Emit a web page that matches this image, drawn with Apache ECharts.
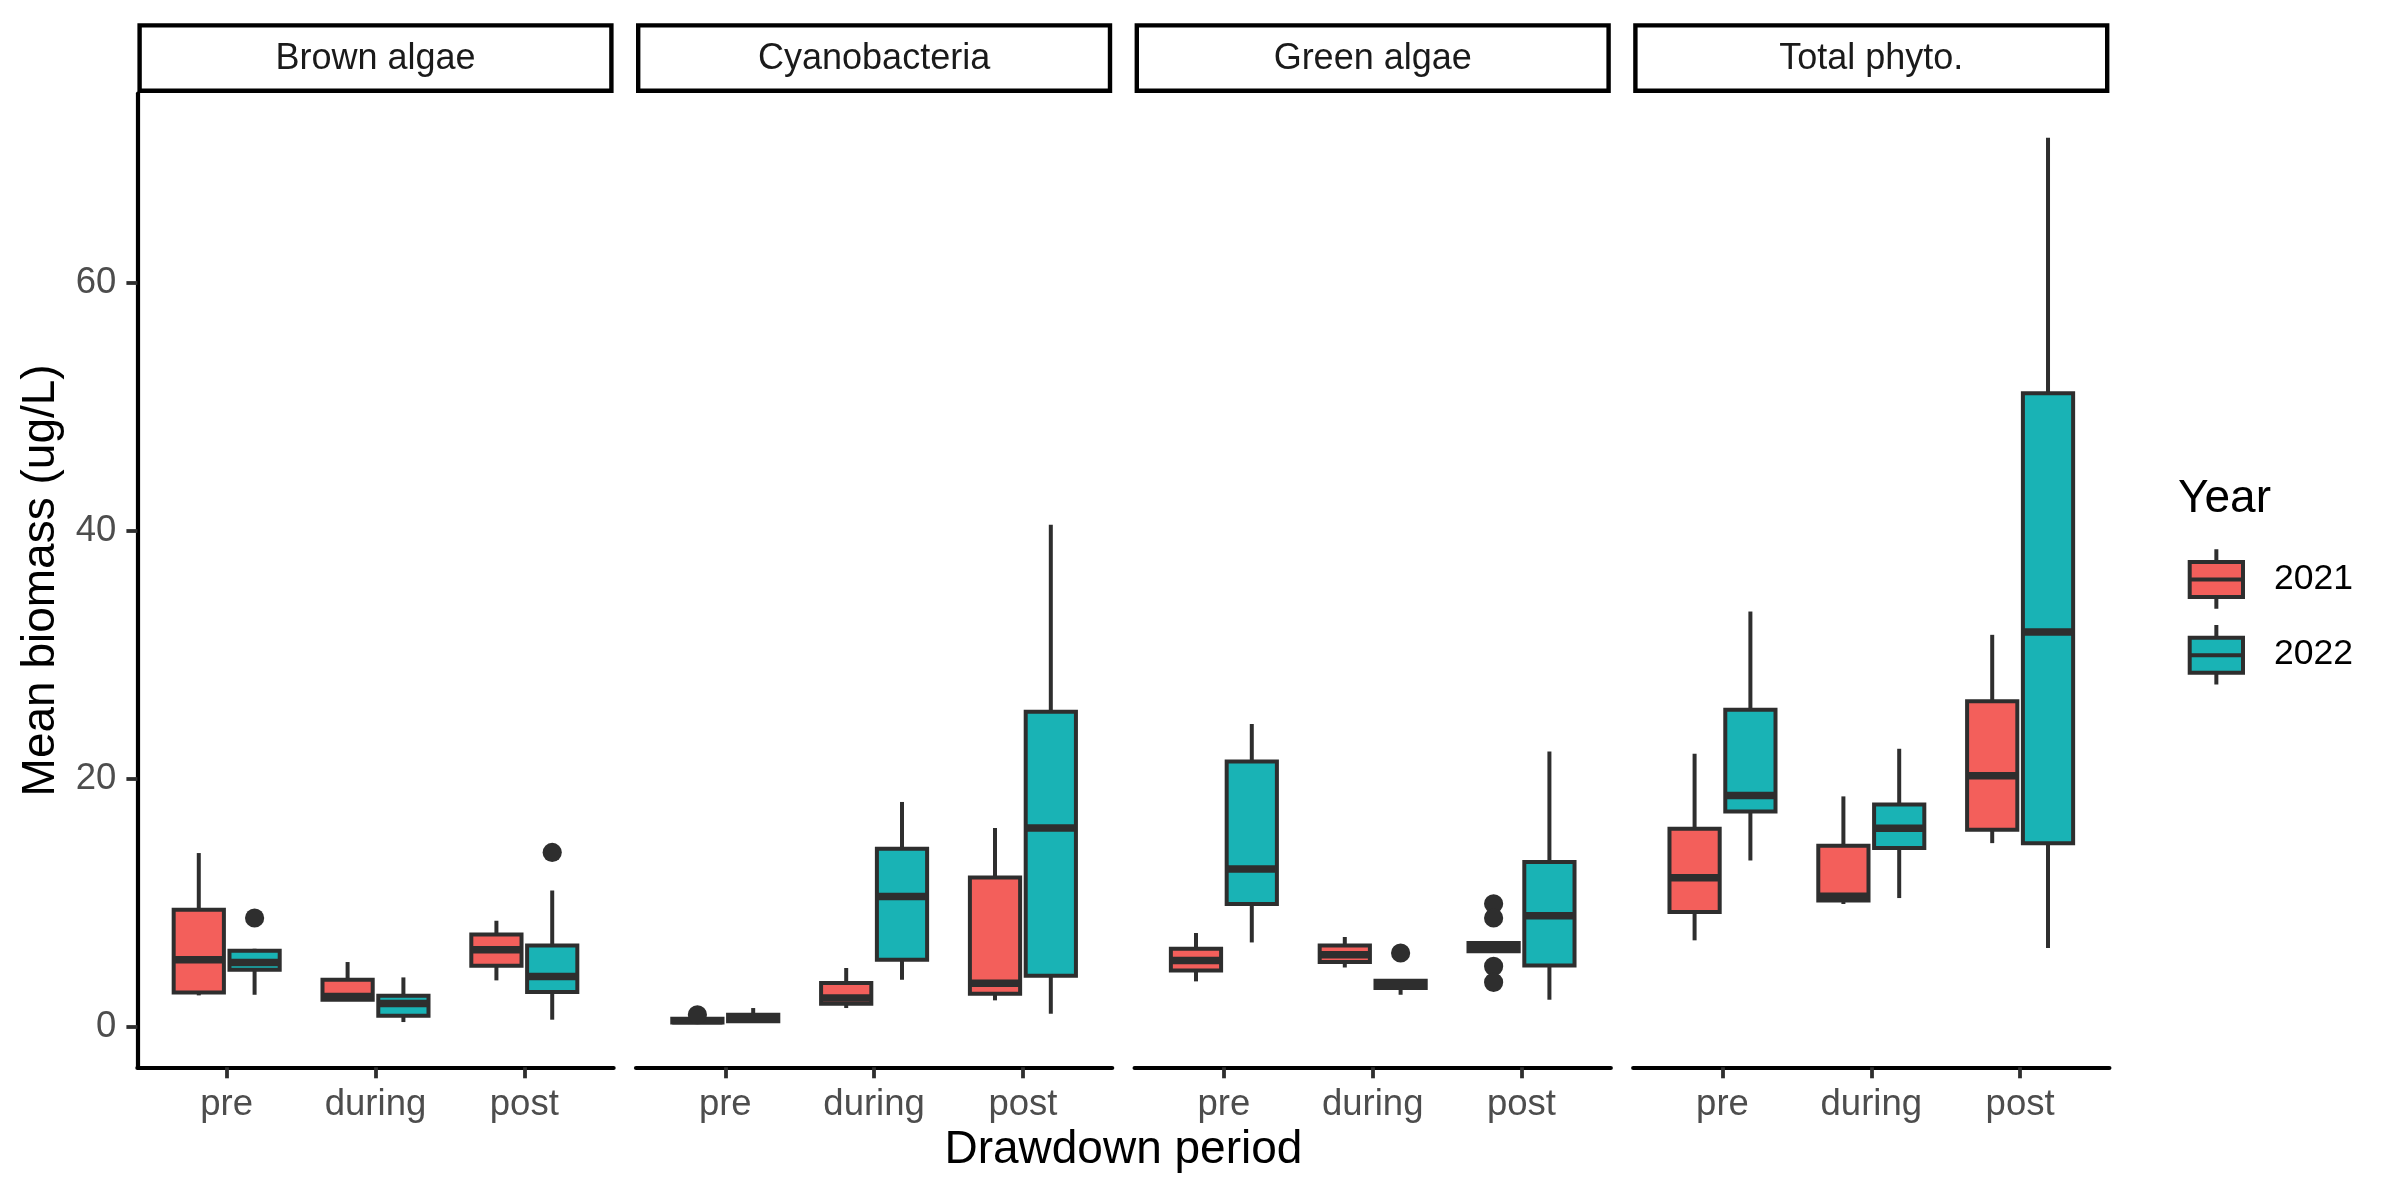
<!DOCTYPE html>
<html>
<head>
<meta charset="utf-8">
<script src="https://cdn.jsdelivr.net/npm/echarts@6/dist/echarts.min.js"></script>
<style>
  html, body { margin: 0; padding: 0; background: #ffffff; }
  #chart { width: 2400px; height: 1200px; }
</style>
</head>
<body>
<div id="chart"></div>
<script>
// ---------------- data ----------------
const periods = ['pre', 'during', 'post'];
const taxa = ['Brown algae', 'Cyanobacteria', 'Green algae', 'Total phyto.'];
const years = ['2021', '2022'];
const yTicks = [0, 20, 40, 60];

// box statistics per period (pre, during, post): [lower whisker, Q1, median, Q3, upper whisker]
const brown2021 = [[2.55, 2.79, 5.43, 9.46, 14.03], [2.15, 2.2, 2.47, 3.81, 5.24], [3.76, 4.94, 6.23, 7.47, 8.57]];
const brown2022 = [[2.6, 4.62, 5.21, 6.15, 6.31], [0.4, 0.91, 1.9, 2.52, 4.0], [0.59, 2.82, 4.08, 6.58, 11.01]];
const cyano2021 = [[0.3, 0.37, 0.5, 0.66, 0.75], [1.53, 1.88, 2.34, 3.55, 4.76], [2.15, 2.69, 3.52, 12.06, 16.05]];
const cyano2022 = [[0.35, 0.46, 0.7, 0.98, 1.53], [3.81, 5.43, 10.53, 14.38, 18.15], [1.07, 4.14, 16.05, 25.43, 40.5]];
const green2021 = [[3.68, 4.56, 5.37, 6.31, 7.58], [4.8, 5.24, 5.83, 6.58, 7.26], [6.0, 6.1, 6.44, 6.77, 6.85]];
const green2022 = [[6.82, 9.92, 12.74, 21.42, 24.44], [2.6, 3.14, 3.44, 3.73, 3.8], [2.2, 4.97, 8.97, 13.3, 22.22]];
const total2021 = [[6.99, 9.27, 12.04, 15.99, 22.04], [9.92, 10.2, 10.55, 14.62, 18.6], [14.83, 15.91, 20.26, 26.28, 31.63]];
const total2022 = [[13.43, 17.39, 18.68, 25.58, 33.51], [10.4, 14.43, 16.04, 17.95, 22.44], [6.37, 14.83, 31.85, 51.12, 71.72]];

// outliers: [taxon index, period index, value]
const outliers2021 = [[1, 0, 0.99], [2, 2, 9.94], [2, 2, 8.79], [2, 2, 4.89], [2, 2, 3.6]];
const outliers2022 = [[0, 0, 8.79], [0, 2, 14.08], [2, 1, 5.97]];

// ---------------- styling / layout ----------------
const FONT = '"Liberation Sans", Arial, Helvetica, sans-serif';
const yearColors = ['#F35F5B', '#19B3B5'];
const EDGE = '#2E2E2E';
const LW = 4;
const MEDLW = 7.5;
const DODGE = 0.1875;   // half dodge distance in category units
const HALF = 0.16875;   // half box width in category units

const PANEL_LEFT0 = 137.4, PANEL_STEP = 498.6, PANEL_W = 476.2;
const PANEL_TOP = 93.5, PANEL_H = 973.8;
const Y_MIN = -3.25, Y_MAX = 75.29;

const statsByYear = [
  [brown2021, cyano2021, green2021, total2021],
  [brown2022, cyano2022, green2022, total2022]
];
const outliersByYear = [outliers2021, outliers2022];

function boxRenderer(offset, fill) {
  return function (params, api) {
    const x = api.value(0) + offset;
    const cx = api.coord([x, 0])[0];
    const xl = api.coord([x - HALF, 0])[0];
    const xr = api.coord([x + HALF, 0])[0];
    const yy = i => api.coord([x, api.value(i)])[1];
    const lo = yy(1), q1 = yy(2), med = yy(3), q3 = yy(4), hi = yy(5);
    const ls = { stroke: EDGE, lineWidth: LW, fill: null };
    return {
      type: 'group',
      children: [
        { type: 'line', shape: { x1: cx, y1: hi, x2: cx, y2: q3 }, style: ls },
        { type: 'line', shape: { x1: cx, y1: q1, x2: cx, y2: lo }, style: ls },
        { type: 'rect', shape: { x: xl, y: q3, width: xr - xl, height: q1 - q3 },
          style: { fill: fill, stroke: EDGE, lineWidth: LW } },
        { type: 'line', shape: { x1: xl, y1: med, x2: xr, y2: med },
          style: { stroke: EDGE, lineWidth: MEDLW, fill: null } }
      ]
    };
  };
}

function outlierRenderer(offset) {
  return function (params, api) {
    const p = api.coord([api.value(0) + offset, api.value(1)]);
    return { type: 'circle', shape: { cx: p[0], cy: p[1], r: 9.6 }, style: { fill: EDGE } };
  };
}

const grids = [], xAxes = [], yAxes = [], series = [], graphics = [];

taxa.forEach(function (taxon, t) {
  const left = PANEL_LEFT0 + t * PANEL_STEP;
  grids.push({ left: left, top: PANEL_TOP, width: PANEL_W, height: PANEL_H,
               containLabel: false, outerBoundsMode: 'none' });
  xAxes.push({
    type: 'value', gridIndex: t, min: 0.4, max: 3.6,
    axisLine: { show: true, onZero: false, lineStyle: { color: '#000000', width: 4.2 } },
    axisTick: { show: true, customValues: [1, 2, 3], length: 11, lineStyle: { color: EDGE, width: 3.8 } },
    axisLabel: { show: true, customValues: [1, 2, 3], margin: 19, fontSize: 36.5, color: '#4D4D4D',
                 fontFamily: FONT, formatter: v => periods[Math.round(v) - 1] },
    splitLine: { show: false }
  });
  const yAxis = {
    type: 'value', gridIndex: t, min: Y_MIN, max: Y_MAX,
    splitLine: { show: false }
  };
  if (t === 0) {
    Object.assign(yAxis, {
      show: true,
      axisLine: { show: true, onZero: false, lineStyle: { color: '#000000', width: 4.2 } },
      axisTick: { show: true, customValues: yTicks, length: 11, lineStyle: { color: EDGE, width: 3.8 } },
      axisLabel: { show: true, customValues: yTicks, margin: 21, fontSize: 36.5, color: '#4D4D4D', fontFamily: FONT },
      name: 'Mean biomass (ug/L)', nameLocation: 'middle', nameGap: 73,
      nameTextStyle: { fontSize: 46, color: '#000000', fontFamily: FONT }
    });
  } else {
    yAxis.show = false;
  }
  yAxes.push(yAxis);

  years.forEach(function (yr, k) {
    const offset = k === 0 ? -DODGE : DODGE;
    series.push({
      type: 'custom', name: yr, coordinateSystem: 'cartesian2d',
      xAxisIndex: t, yAxisIndex: t,
      itemStyle: { color: yearColors[k], borderColor: EDGE, borderWidth: LW },
      encode: { x: 0, y: [1, 2, 3, 4, 5] },
      renderItem: boxRenderer(offset, yearColors[k]),
      data: statsByYear[k][t].map((s, p) => [p + 1].concat(s)),
      silent: true
    });
    const outs = outliersByYear[k].filter(o => o[0] === t).map(o => [o[1] + 1, o[2]]);
    if (outs.length) {
      series.push({
        type: 'custom', name: yr + ' outliers', coordinateSystem: 'cartesian2d',
        xAxisIndex: t, yAxisIndex: t,
        encode: { x: 0, y: 1 },
        renderItem: outlierRenderer(offset),
        data: outs, silent: true, z: 3
      });
    }
  });

  // facet strip
  graphics.push({
    type: 'rect', shape: { x: left + 2.2, y: 25.4, width: PANEL_W - 4.4, height: 65.4 },
    style: { fill: '#ffffff', stroke: '#000000', lineWidth: 4.4 }, silent: true
  });
  graphics.push({
    type: 'text', x: left + PANEL_W / 2, y: 59,
    style: { text: taxon, fill: '#1A1A1A', font: '36px ' + FONT, align: 'center', verticalAlign: 'middle' },
    silent: true
  });
});

// x axis title
graphics.push({
  type: 'text', x: (PANEL_LEFT0 + PANEL_LEFT0 + 3 * PANEL_STEP + PANEL_W) / 2, y: 1150,
  style: { text: 'Drawdown period', fill: '#000000', font: '46px ' + FONT, align: 'center', verticalAlign: 'middle' },
  silent: true
});
// legend title
graphics.push({
  type: 'text', x: 2178, y: 499,
  style: { text: 'Year', fill: '#000000', font: '46px ' + FONT, align: 'left', verticalAlign: 'middle' },
  silent: true
});

const option = {
  animation: false,
  backgroundColor: '#ffffff',
  textStyle: { fontFamily: FONT },
  grid: grids,
  xAxis: xAxes,
  yAxis: yAxes,
  legend: {
    data: years,
    orient: 'vertical',
    left: 2187.7, top: 547.3,
    padding: 0,
    itemGap: 12.3,
    itemWidth: 53.3, itemHeight: 59.4,
    icon: 'path://M1.7,12.7 L55,12.7 L55,47.7 L1.7,47.7 Z M28.35,0 L28.35,12.7 M28.35,47.7 L28.35,59.4 M1.7,30.2 L55,30.2',
    itemStyle: { borderColor: EDGE, borderWidth: LW },
    textStyle: { fontSize: 35.5, color: '#000000', fontFamily: FONT, padding: [0, 0, 0, 26] },
    selectedMode: false
  },
  graphic: { elements: graphics },
  series: series
};

const chart = echarts.init(document.getElementById('chart'), null, { renderer: 'canvas' });
chart.setOption(option);
</script>
</body>
</html>
